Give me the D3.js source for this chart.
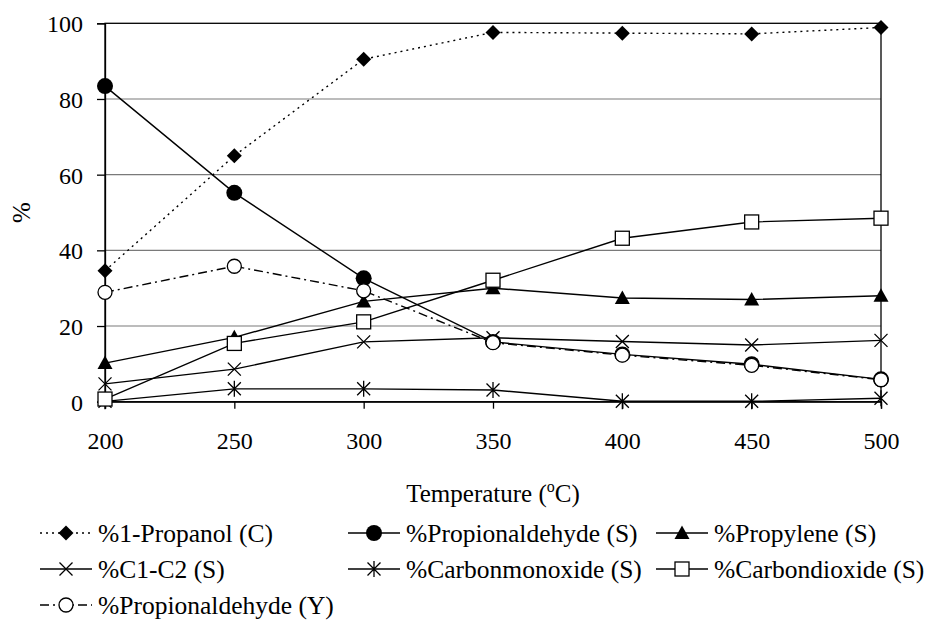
<!DOCTYPE html>
<html>
<head>
<meta charset="utf-8">
<script src="https://cdn.jsdelivr.net/npm/d3@7"></script>
<style>
  body { margin: 0; background: #fff; }
  svg text { font-family: "Liberation Serif", "Times New Roman", serif; fill: #000; }
</style>
</head>
<body>
<svg id="chart" width="929" height="621"></svg>
<script>
// Reaction temperature (°C)
const temperatures = [200, 250, 300, 350, 400, 450, 500];

// Conversion / selectivity / yield (%)
const propanolConversion     = [34.6, 65.0, 90.5, 97.6, 97.4, 97.2, 98.9];
const propionaldehydeSel     = [83.4, 55.2, 32.6, 15.8, 12.5, 9.9, 5.9];
const propyleneSel           = [10.2, 17.0, 26.5, 30.0, 27.4, 27.0, 28.0];
const c1c2Sel                = [4.7, 8.6, 15.8, 16.9, 15.9, 15.0, 16.2];
const carbonmonoxideSel      = [0.1, 3.4, 3.4, 3.1, 0.1, 0.1, 0.9];
const carbondioxideSel       = [0.7, 15.4, 21.1, 32.1, 43.2, 47.5, 48.5];
const propionaldehydeYield   = [28.9, 35.8, 29.3, 15.6, 12.3, 9.6, 5.8];

const seriesLabels = [
  "%1-Propanol (C)", "%Propionaldehyde (S)", "%Propylene (S)",
  "%C1-C2 (S)", "%Carbonmonoxide (S)", "%Carbondioxide (S)",
  "%Propionaldehyde (Y)"
];
const yTickValues = [0, 20, 40, 60, 80, 100];
const xTitle = "Temperature (";
const yTitle = "%";

const series = [
  { label: seriesLabels[0], values: propanolConversion,   marker: "diamond",  dash: "2,4" },
  { label: seriesLabels[1], values: propionaldehydeSel,   marker: "dot",      dash: null },
  { label: seriesLabels[2], values: propyleneSel,         marker: "triangle", dash: null },
  { label: seriesLabels[3], values: c1c2Sel,              marker: "cross",    dash: null },
  { label: seriesLabels[4], values: carbonmonoxideSel,    marker: "star",     dash: null },
  { label: seriesLabels[5], values: carbondioxideSel,     marker: "square",   dash: null },
  { label: seriesLabels[6], values: propionaldehydeYield, marker: "ring",     dash: "9,4,2,4" }
];

const svg = d3.select("#chart");
const plot = { left: 105, right: 881, top: 23.3, bottom: 401.7 };

const x = d3.scalePoint().domain(temperatures).range([plot.left, plot.right]);
const y = d3.scaleLinear().domain([0, 100]).range([plot.bottom, plot.top]);

// horizontal gridlines
svg.append("g").selectAll("line")
  .data(yTickValues.filter(v => v > 0 && v < 100))
  .join("line")
  .attr("x1", plot.left).attr("x2", plot.right)
  .attr("y1", d => y(d)).attr("y2", d => y(d))
  .attr("stroke", "#7a7a7a").attr("stroke-width", 1.2);

// plot frame
svg.append("rect")
  .attr("x", plot.left).attr("y", plot.top)
  .attr("width", plot.right - plot.left).attr("height", plot.bottom - plot.top)
  .attr("fill", "none").attr("stroke", "#000").attr("stroke-width", 1.3);

// y axis
const yAxis = svg.append("g")
  .attr("transform", `translate(${plot.left},0)`)
  .call(d3.axisLeft(y).tickValues(yTickValues).tickSize(8).tickFormat(d3.format("d")));
yAxis.select(".domain").attr("stroke", "#000").attr("stroke-width", 1.3);
yAxis.selectAll(".tick line").attr("stroke", "#000").attr("stroke-width", 1.3);
yAxis.selectAll(".tick text")
  .attr("x", -22).attr("dy", "0.35em")
  .style("font-size", "24px").style("font-family", "Liberation Serif");

// x axis
const xAxis = svg.append("g")
  .attr("transform", `translate(0,${plot.bottom})`)
  .call(d3.axisBottom(x).tickSize(7).tickPadding(0));
xAxis.select(".domain").attr("stroke", "#000").attr("stroke-width", 1.3);
xAxis.selectAll(".tick line").attr("stroke", "#000").attr("stroke-width", 1.3);
xAxis.selectAll(".tick text")
  .attr("y", 38.5).attr("dy", "0.35em")
  .style("font-size", "24px").style("font-family", "Liberation Serif");

// axis titles
const xt = svg.append("text")
  .attr("x", (plot.left + plot.right) / 2).attr("y", 493).attr("dy", "0.35em")
  .attr("text-anchor", "middle").style("font-size", "25px");
xt.append("tspan").text(xTitle);
xt.append("tspan").text("o").attr("dy", "-10px").style("font-size", "16px");
xt.append("tspan").text("C)").attr("dy", "10px");

svg.append("text")
  .attr("transform", `translate(21,${(plot.top + plot.bottom) / 2}) rotate(-90)`)
  .attr("text-anchor", "middle").attr("dy", "0.35em")
  .style("font-size", "25px").text(yTitle);

// marker shapes
function drawMarker(g, type) {
  const sw = 1.3;
  switch (type) {
    case "diamond":
      g.append("path").attr("d", "M0,-7.5L7.5,0L0,7.5L-7.5,0Z").attr("fill", "#000");
      break;
    case "dot":
      g.append("circle").attr("r", 8).attr("fill", "#000");
      break;
    case "triangle":
      g.append("path").attr("d", "M0,-7.5L7.5,6L-7.5,6Z").attr("fill", "#000");
      break;
    case "cross":
      g.append("path").attr("d", "M-6.5,-6.5L6.5,6.5M6.5,-6.5L-6.5,6.5")
        .attr("stroke", "#000").attr("stroke-width", sw).attr("fill", "none");
      break;
    case "star":
      g.append("path").attr("d", "M-6.5,-6.5L6.5,6.5M6.5,-6.5L-6.5,6.5M0,-8L0,8")
        .attr("stroke", "#000").attr("stroke-width", sw).attr("fill", "none");
      break;
    case "square":
      g.append("rect").attr("x", -7).attr("y", -7).attr("width", 14).attr("height", 14)
        .attr("fill", "#fff").attr("stroke", "#000").attr("stroke-width", sw);
      break;
    case "ring":
      g.append("circle").attr("r", 7).attr("fill", "#fff")
        .attr("stroke", "#000").attr("stroke-width", sw);
      break;
  }
}

// series lines and markers
const line = d3.line().x((d, i) => x(temperatures[i])).y(d => y(d));
series.forEach(s => {
  const g = svg.append("g");
  g.append("path")
    .attr("d", line(s.values))
    .attr("fill", "none").attr("stroke", "#000").attr("stroke-width", 1.4)
    .attr("stroke-dasharray", s.dash);
  s.values.forEach((v, i) => {
    drawMarker(g.append("g").attr("transform", `translate(${x(temperatures[i])},${y(v)})`), s.marker);
  });
});

// legend: three columns, wrapping rows
const legendCols = [40, 348, 656];
const legendRows = [533, 569, 605];
const textEnds = {};
series.forEach((s, k) => {
  const col = k % 3, row = Math.floor(k / 3);
  const cx = legendCols[col], cy = legendRows[row];
  const g = svg.append("g");
  let start = cx;
  const prev = textEnds[row + "-" + (col - 1)];
  if (col > 0 && prev + 7 > start) start = prev + 7;
  const end = cx + 52;
  g.append("line")
    .attr("x1", start).attr("x2", end).attr("y1", cy).attr("y2", cy)
    .attr("stroke", "#000").attr("stroke-width", 1.4)
    .attr("stroke-dasharray", s.dash);
  drawMarker(g.append("g").attr("transform", `translate(${(start + end) / 2},${cy})`), s.marker);
  const t = g.append("text")
    .attr("x", cx + 58).attr("y", cy).attr("dy", "0.35em")
    .style("font-size", "25.5px").text(s.label);
  textEnds[row + "-" + col] = cx + 58 + t.node().getComputedTextLength();
});
</script>
</body>
</html>
